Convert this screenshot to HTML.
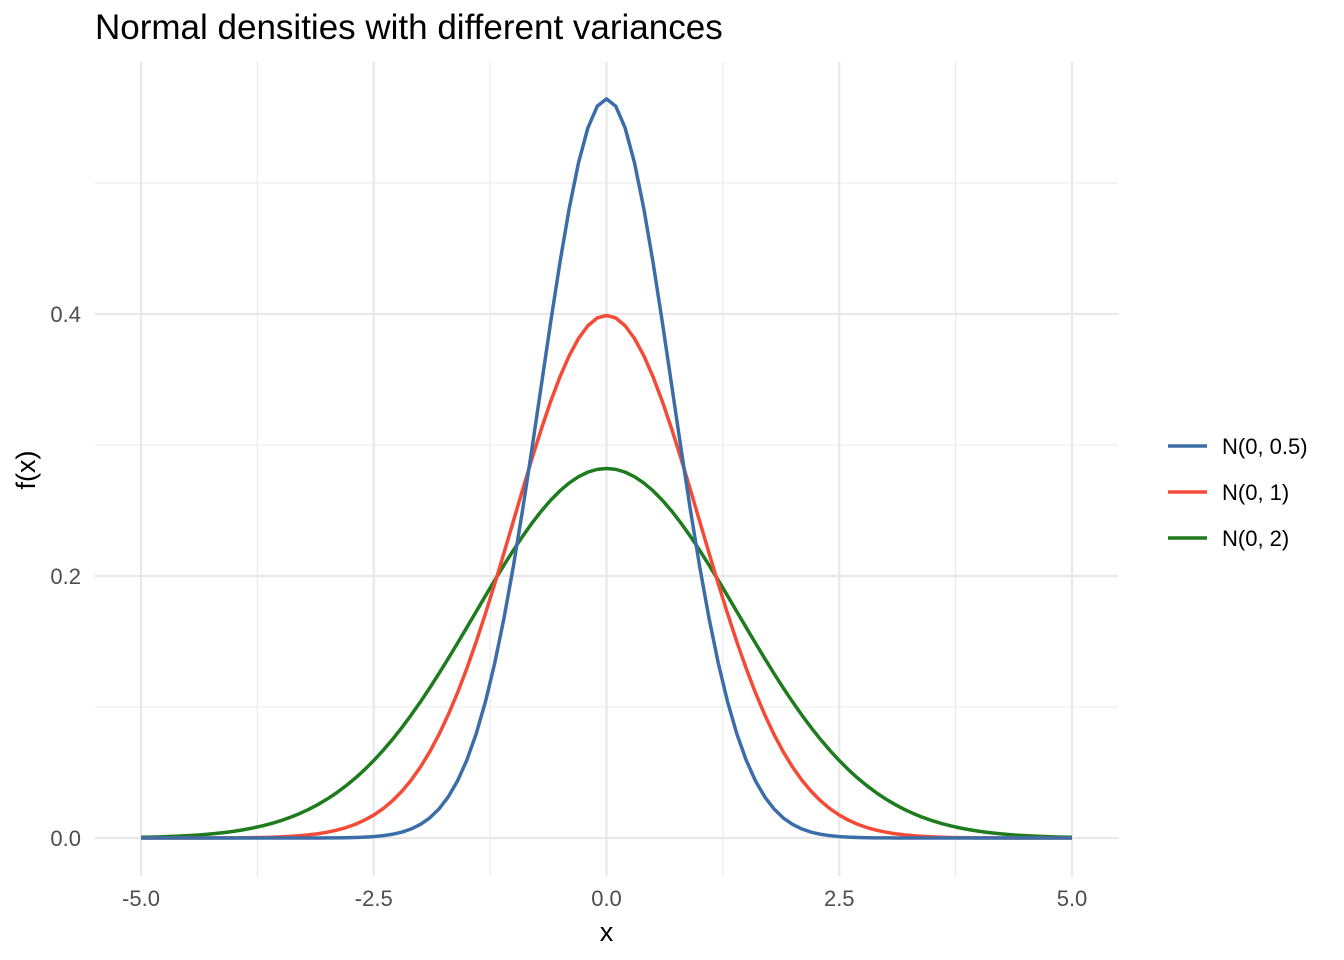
<!DOCTYPE html>
<html><head><meta charset="utf-8"><style>
html,body{margin:0;padding:0;background:#fff;}
svg{display:block;font-family:"Liberation Sans",Arial,sans-serif;}
</style></head><body>
<svg id="s" width="1344" height="960" viewBox="0 0 1344 960" xmlns="http://www.w3.org/2000/svg">
<rect width="1344" height="960" fill="#fff"/>
<g id="grid"></g>
<g id="curves" fill="none" stroke-width="3.5" stroke-linejoin="round"></g>
<text x="95" y="39" font-size="35" fill="#000">Normal densities with different variances</text>
<g font-size="22" fill="#4d4d4d" text-anchor="end">
<text x="81" y="846">0.0</text>
<text x="81" y="584">0.2</text>
<text x="81" y="322">0.4</text>
</g>
<g font-size="22" fill="#4d4d4d" text-anchor="middle">
<text x="141" y="906">-5.0</text>
<text x="373.75" y="906">-2.5</text>
<text x="606.5" y="906">0.0</text>
<text x="839.25" y="906">2.5</text>
<text x="1072" y="906">5.0</text>
</g>
<text x="606.5" y="941" font-size="27" text-anchor="middle" fill="#000">x</text>
<text transform="translate(35,470) rotate(-90)" font-size="27" text-anchor="middle" fill="#000">f(x)</text>
<g stroke-width="3.5">
<line x1="1168" y1="446" x2="1207" y2="446" stroke="#3B6EA8"/>
<line x1="1168" y1="492" x2="1207" y2="492" stroke="#F44B36"/>
<line x1="1168" y1="538" x2="1207" y2="538" stroke="#1E7B1E"/>
</g>
<g font-size="22" fill="#000">
<text x="1222" y="454">N(0, 0.5)</text>
<text x="1222" y="500">N(0, 1)</text>
<text x="1222" y="546">N(0, 2)</text>
</g>
<script>
(function(){
var ns="http://www.w3.org/2000/svg";
var X=function(x){return 606.5+x*93.1;}, Y=function(y){return 838-y*1310;};
var g=document.getElementById("grid");
function ln(x1,y1,x2,y2,w){var l=document.createElementNS(ns,"line");l.setAttribute("x1",x1);l.setAttribute("y1",y1);l.setAttribute("x2",x2);l.setAttribute("y2",y2);l.setAttribute("stroke","#e8e8e8");l.setAttribute("stroke-width",w);g.appendChild(l);}
[-3.75,-1.25,1.25,3.75].forEach(function(v){ln(X(v),62,X(v),876,1.1);});
[0.1,0.3,0.5].forEach(function(v){ln(95,Y(v),1118,Y(v),1.1);});
[-5,-2.5,0,2.5,5].forEach(function(v){ln(X(v),62,X(v),876,2.2);});
[0,0.2,0.4].forEach(function(v){ln(95,Y(v),1118,Y(v),2.2);});
var c=document.getElementById("curves");
[[2,"#1E7B1E"],[1,"#F44B36"],[0.5,"#3B6EA8"]].forEach(function(p){
var v=p[0],d="";
for(var i=0;i<=100;i++){var x=-5+i*0.1;var y=Math.exp(-x*x/(2*v))/Math.sqrt(2*Math.PI*v);d+=(i?"L":"M")+X(x).toFixed(2)+","+Y(y).toFixed(2);}
var e=document.createElementNS(ns,"path");e.setAttribute("d",d);e.setAttribute("stroke",p[1]);c.appendChild(e);});
})();
</script>
</svg>
</body></html>
